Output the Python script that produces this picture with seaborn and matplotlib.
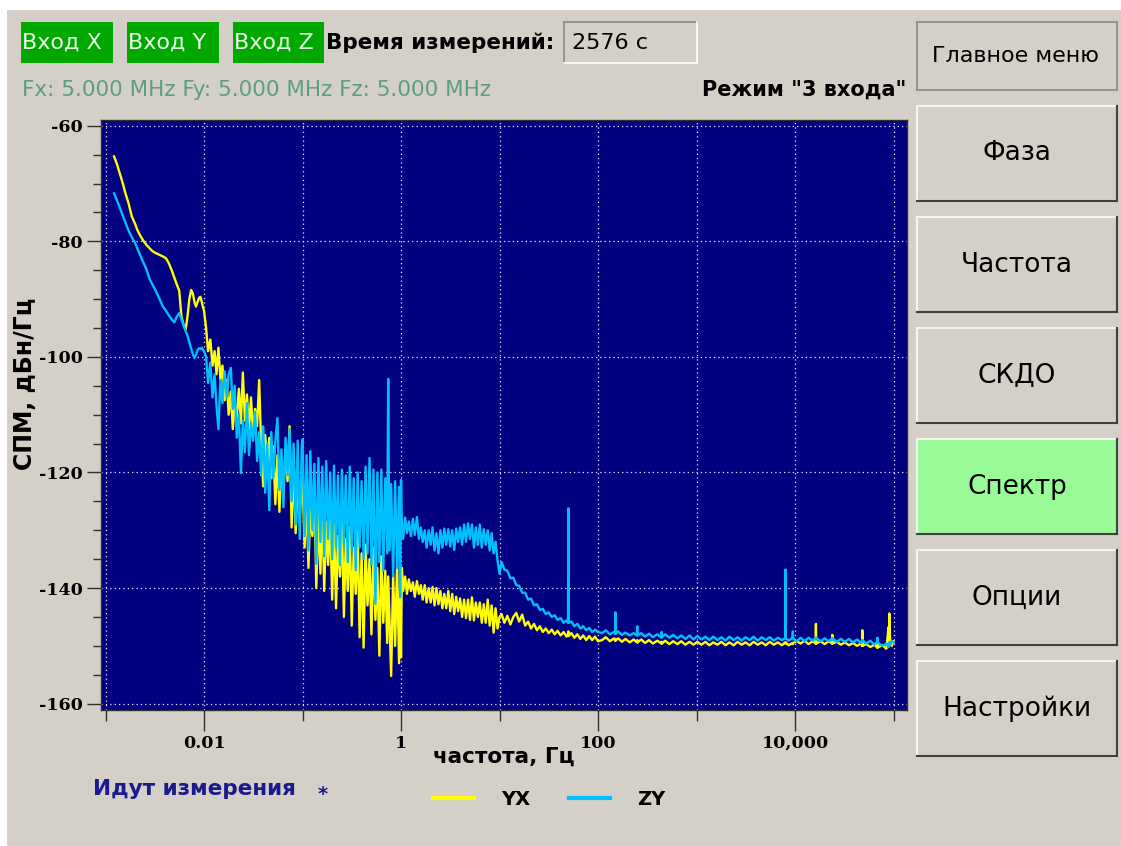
import pandas as pd
import seaborn as sns
import matplotlib.pyplot as plt
from matplotlib.patches import Rectangle
from matplotlib.lines import Line2D
from matplotlib.ticker import FixedLocator, FixedFormatter, NullFormatter

# --- spectrum data, split by decade ---
freq_a = [0.00122, 0.0013, 0.0014, 0.0015, 0.0016, 0.0017, 0.00185, 0.002, 0.0021, 0.00225,
          0.0024, 0.0026, 0.0028, 0.003, 0.0032, 0.0035, 0.0038, 0.0041, 0.0044, 0.0047,
          0.005, 0.0053, 0.0056, 0.0059, 0.0062, 0.0065, 0.0068, 0.0071, 0.0074, 0.0077,
          0.008, 0.0083, 0.0086, 0.0089, 0.0092, 0.0095, 0.0098, 0.01]
yx_a = [-65.3, -66.5, -68.3, -70.0, -71.8, -73.2, -75.7, -77.0, -78.0, -79.0,
        -79.8, -80.6, -81.2, -81.7, -82.0, -82.3, -82.6, -82.9, -83.8, -85.0,
        -86.3, -87.5, -88.5, -93.0, -94.5, -95.3, -93.0, -90.0, -88.4, -89.0,
        -90.5, -91.3, -90.5, -89.8, -89.6, -90.5, -91.5, -92.0]
zy_a = [-71.7, -72.8, -74.2, -75.6, -76.8, -78.0, -79.3, -80.3, -81.2, -82.4,
        -83.5, -84.8, -86.5, -87.5, -88.4, -89.8, -91.2, -92.0, -92.8, -93.5,
        -94.0, -93.0, -92.4, -93.5, -94.5, -95.5, -96.3, -97.5, -98.5, -99.5,
        -100.2, -99.6, -98.8, -98.5, -98.6, -98.4, -98.8, -99.0]

freq_b = [0.0105, 0.011, 0.0116, 0.0122, 0.0128, 0.0134, 0.014, 0.0147, 0.0154, 0.0162,
          0.017, 0.0178, 0.0187, 0.0196, 0.0205, 0.0215, 0.0226, 0.0237, 0.0248, 0.026,
          0.0273, 0.0286, 0.03, 0.0315, 0.033, 0.0346, 0.0363, 0.038, 0.0399, 0.0418,
          0.0438, 0.046, 0.0482, 0.0505, 0.053, 0.0556, 0.0583, 0.0611, 0.064, 0.0672,
          0.0705, 0.0739, 0.0775, 0.0812, 0.0852, 0.0893, 0.0937, 0.0982]
yx_b = [-95.0, -99.0, -97.0, -101.5, -99.0, -103.0, -98.4, -104.0, -101.5, -107.5,
        -104.0, -110.0, -106.0, -112.5, -108.0, -110.5, -105.5, -111.5, -102.7, -111.0,
        -106.5, -112.5, -107.0, -113.5, -109.0, -112.0, -104.0, -115.0, -122.4, -113.5,
        -118.5, -114.0, -121.0, -115.5, -125.5, -117.0, -126.8, -118.0, -123.0, -116.0,
        -121.5, -112.0, -129.5, -118.5, -130.5, -121.0, -127.5, -122.0]
zy_b = [-100.0, -104.5, -101.0, -107.0, -103.0, -108.5, -112.5, -104.0, -108.0, -102.5,
        -107.0, -103.0, -101.9, -109.0, -105.0, -114.0, -110.0, -120.1, -111.0, -116.5,
        -108.0, -117.0, -111.5, -114.5, -109.5, -118.0, -113.0, -120.5, -112.0, -123.5,
        -115.0, -126.5, -113.0, -121.0, -114.5, -110.6, -123.0, -116.0, -126.0, -114.0,
        -120.5, -112.5, -125.0, -115.0, -129.0, -114.5, -131.5, -116.0]

freq_c = [0.1, 0.105, 0.11, 0.115, 0.12, 0.126, 0.132, 0.138, 0.145, 0.152,
          0.159, 0.166, 0.174, 0.182, 0.191, 0.2, 0.209, 0.219, 0.229, 0.24,
          0.251, 0.263, 0.275, 0.288, 0.302, 0.316, 0.331, 0.347, 0.363, 0.38,
          0.398, 0.417, 0.437, 0.457, 0.479, 0.501, 0.525, 0.55, 0.575, 0.603,
          0.631, 0.661, 0.692, 0.724, 0.741, 0.759, 0.794, 0.832, 0.871, 0.912,
          0.955, 0.98, 1.0]
yx_c = [-121.0, -133.0, -124.5, -136.5, -126.0, -131.0, -123.0, -140.0, -127.0, -137.5,
        -125.5, -140.5, -128.5, -136.0, -127.5, -142.0, -129.0, -143.5, -131.0, -138.0,
        -128.0, -145.0, -131.5, -140.5, -129.5, -146.5, -133.0, -141.0, -130.0, -148.5,
        -134.0, -150.3, -132.5, -143.0, -135.0, -148.0, -133.0, -145.5, -136.5, -151.7,
        -134.5, -146.0, -137.0, -149.5, -138.0, -144.0, -155.2, -137.5, -150.0, -136.0,
        -153.0, -140.0, -152.0]
zy_c = [-114.3, -131.0, -117.0, -133.5, -116.3, -130.0, -118.5, -135.8, -117.5, -132.0,
        -119.0, -134.5, -118.0, -131.5, -120.0, -135.0, -118.8, -133.0, -120.5, -136.0,
        -119.5, -132.5, -120.5, -135.5, -119.0, -133.5, -121.0, -136.9, -120.0, -133.0,
        -121.5, -135.0, -119.0, -134.0, -117.5, -136.0, -119.5, -142.7, -120.0, -135.5,
        -119.5, -137.0, -121.0, -134.0, -103.8, -133.5, -122.0, -138.0, -121.5, -136.5,
        -122.5, -141.6, -121.3]

freq_d = [1.02, 1.05, 1.1, 1.15, 1.2, 1.26, 1.32, 1.38, 1.45, 1.52,
          1.59, 1.66, 1.74, 1.82, 1.91, 2.0, 2.09, 2.19, 2.29, 2.4,
          2.51, 2.63, 2.75, 2.88, 3.02, 3.16, 3.31, 3.47, 3.63, 3.8,
          3.98, 4.17, 4.37, 4.57, 4.79, 5.01, 5.25, 5.5, 5.75, 6.03,
          6.31, 6.61, 6.92, 7.24, 7.59, 7.94, 8.32, 8.71, 9.12, 9.55,
          10.0]
yx_d = [-136.5, -140.5, -138.0, -141.0, -138.5, -140.5, -139.0, -141.5, -138.8, -141.0,
        -139.5, -142.0, -139.5, -142.5, -140.0, -142.5, -139.8, -143.0, -140.0, -142.8,
        -140.5, -143.5, -141.0, -143.5, -140.5, -144.0, -141.0, -144.5, -141.5, -144.0,
        -141.8, -145.0, -142.0, -145.2, -142.0, -145.5, -141.6, -145.6, -142.5, -145.0,
        -142.5, -146.0, -142.8, -146.0, -142.0, -146.5, -143.0, -147.7, -143.5, -147.0,
        -145.0]
zy_d = [-129.0, -131.5, -127.8, -130.5, -128.5, -131.0, -128.0, -130.8, -127.7, -131.5,
        -129.5, -132.0, -130.0, -133.0, -130.0, -132.5, -129.5, -133.5, -130.5, -134.0,
        -130.0, -133.0, -129.7, -132.5, -129.8, -132.8, -130.0, -133.4, -129.7, -132.0,
        -129.5, -132.5, -129.0, -132.0, -128.8, -131.5, -129.0, -133.0, -129.5, -132.5,
        -129.0, -133.0, -129.8, -132.5, -130.0, -133.5, -130.5, -134.0, -132.0, -135.2,
        -137.5]

freq_e = [10.5, 11.2, 12.0, 12.9, 13.8, 14.8, 15.8, 17.0, 18.2, 19.5,
          20.9, 22.4, 24.0, 25.7, 27.5, 29.5, 31.6, 33.9, 36.3, 38.9,
          41.7, 44.7, 47.9, 49.6, 50.0, 50.4, 53.7, 57.5, 61.7, 66.1,
          70.8, 75.9, 81.3, 87.1, 93.3, 100.0]
yx_e = [-144.5, -146.0, -144.8, -146.3, -145.0, -144.3, -145.8, -144.6, -146.5, -145.8,
        -147.0, -146.2, -147.3, -146.6, -147.6, -147.0, -147.8, -147.2, -148.0, -147.4,
        -148.2, -147.6, -148.4, -147.8, -147.5, -148.3, -147.8, -148.6, -148.0, -148.8,
        -148.2, -149.0, -148.3, -149.0, -148.4, -149.2]
zy_e = [-135.5, -136.8, -137.0, -138.3, -138.2, -139.5, -139.6, -140.8, -140.8, -142.0,
        -141.8, -143.0, -142.8, -143.8, -143.6, -144.5, -144.2, -145.0, -144.7, -145.5,
        -145.2, -146.0, -145.6, -146.0, -126.2, -146.0, -145.8, -146.6, -146.2, -147.0,
        -146.6, -147.3, -146.9, -147.6, -147.2, -147.6]

freq_f = [110, 120, 132, 145, 149.5, 150, 150.5, 160, 175, 190,
          210, 230, 248, 250, 252, 275, 300, 330, 360, 400,
          440, 443, 446, 480, 530, 580, 640, 700, 770, 850,
          930, 1020, 1120, 1230, 1350, 1480, 1630, 1790, 1970, 2160,
          2380, 2610, 2870, 3150, 3460, 3800, 4180, 4590, 5040, 5540,
          6090, 6690, 7350, 7950, 8000, 8050, 8600, 9450, 9500, 9550,
          10400, 11400, 12500, 13700, 15100, 16200, 16300, 16400, 18200, 20000,
          22000, 23800, 23900, 24000, 26600, 29200, 32100, 35300, 38800, 42600,
          46800, 48150, 48200, 48250, 52900, 58100, 63800, 68400, 68500, 68600,
          77000, 84600, 89000, 90000, 90600, 91200, 93000, 96000, 100000]
yx_f = [-149.0, -148.5, -149.2, -148.7, -149.1, -148.8, -149.1, -148.7, -149.3, -148.8,
        -149.4, -148.9, -149.4, -149.0, -149.4, -148.9, -149.5, -149.0, -149.6, -149.1,
        -149.6, -149.3, -149.6, -149.1, -149.7, -149.2, -149.7, -149.2, -149.8, -149.3,
        -149.8, -149.3, -149.8, -149.3, -149.9, -149.4, -149.8, -149.3, -149.9, -149.4,
        -149.9, -149.3, -149.8, -149.4, -149.9, -149.3, -149.8, -149.4, -149.9, -149.3,
        -149.8, -149.4, -149.9, -149.4, -149.6, -149.4, -149.9, -149.5, -149.7, -149.5,
        -149.2, -149.6, -149.1, -149.7, -149.2, -149.6, -146.2, -149.6, -149.2, -149.7,
        -149.2, -149.6, -148.1, -149.6, -149.3, -149.8, -149.4, -149.9, -149.5, -150.0,
        -149.6, -150.0, -147.3, -150.0, -149.7, -150.2, -149.8, -150.3, -148.7, -150.3,
        -149.9, -150.5, -146.8, -150.0, -144.4, -148.0, -149.3, -150.0, -149.2]
zy_f = [-147.8, -147.3, -148.0, -147.6, -147.9, -144.2, -147.9, -147.5, -148.1, -147.7,
        -148.2, -147.8, -148.2, -146.6, -148.2, -147.8, -148.4, -147.9, -148.5, -148.0,
        -148.6, -147.6, -148.5, -148.0, -148.6, -148.1, -148.7, -148.2, -148.8, -148.2,
        -148.9, -148.3, -148.9, -148.4, -149.0, -148.4, -149.0, -148.5, -149.1, -148.4,
        -149.0, -148.5, -149.1, -148.5, -149.0, -148.4, -149.1, -148.5, -149.0, -148.5,
        -149.1, -148.6, -149.0, -148.7, -136.8, -148.7, -149.1, -148.6, -147.5, -148.7,
        -149.2, -148.6, -149.2, -148.6, -149.1, -148.6, -148.9, -148.6, -149.2, -148.7,
        -149.2, -148.7, -149.0, -148.7, -149.3, -148.8, -149.3, -148.8, -149.4, -148.9,
        -149.5, -149.0, -149.3, -149.0, -149.6, -149.1, -149.8, -149.3, -148.6, -149.4,
        -150.0, -149.6, -150.2, -149.5, -149.9, -149.3, -149.8, -149.2, -149.4]

x_major = [0.01, 1, 100, 10000]
x_labels = ["0.01", "1", "100", "10,000"]
x_minor = [0.001, 0.1, 10, 1000, 100000]
y_major = [-160, -140, -120, -100, -80, -60]
y_labels = ["-160", "-140", "-120", "-100", "-80", "-60"]
y_minor = [-155, -150, -145, -135, -130, -125, -115, -110, -105,
           -95, -90, -85, -75, -70, -65]

series_names = ["YX", "ZY"]
series_colors = {"YX": "#ffff00", "ZY": "#00bfff"}

freq = freq_a + freq_b + freq_c + freq_d + freq_e + freq_f
yx_db = yx_a + yx_b + yx_c + yx_d + yx_e + yx_f
zy_db = zy_a + zy_b + zy_c + zy_d + zy_e + zy_f

df = pd.DataFrame({
    "freq": freq + freq,
    "spm": yx_db + zy_db,
    "pair": ["YX"] * len(freq) + ["ZY"] * len(freq),
})

# screen geometry in pixels (from top-left)
W, H = 1121, 846
GRAY = "#d4d0c8"


def fx(px):
    return px / W


def fy(py):
    return 1 - py / H


fig = plt.figure(figsize=(W / 100, H / 100), dpi=100, facecolor=GRAY)
# white strips at the top and left of the window
fig.add_artist(Rectangle((0, fy(10)), 1, 10 / H, transform=fig.transFigure,
                         facecolor="white", edgecolor="none"))
fig.add_artist(Rectangle((0, 0), 7 / W, 1, transform=fig.transFigure,
                         facecolor="white", edgecolor="none"))

ax = fig.add_axes([fx(101), fy(710), 806 / W, 590 / H])
sns.lineplot(data=df, x="freq", y="spm", hue="pair", hue_order=series_names,
             palette=series_colors, estimator=None, linewidth=1.7, ax=ax)

ax.set_facecolor("#000080")
ax.set_xscale("log")
ax.set_xlim(0.0009, 1.37e5)
ax.set_ylim(-161.1, -59.0)

ax.xaxis.set_major_locator(FixedLocator(x_major))
ax.xaxis.set_major_formatter(FixedFormatter(x_labels))
ax.xaxis.set_minor_locator(FixedLocator(x_minor))
ax.xaxis.set_minor_formatter(NullFormatter())
ax.yaxis.set_major_locator(FixedLocator(y_major))
ax.yaxis.set_major_formatter(FixedFormatter(y_labels))
ax.yaxis.set_minor_locator(FixedLocator(y_minor))

ax.grid(which="both", axis="x", color="#e8e8ff", linestyle=(0, (1, 2.5)), linewidth=0.9)
ax.grid(which="major", axis="y", color="#e8e8ff", linestyle=(0, (1, 2.5)), linewidth=0.9)

ax.tick_params(axis="x", which="major", length=15, width=1, color="#303030", pad=3)
ax.tick_params(axis="x", which="minor", length=8, width=1, color="#303030")
ax.tick_params(axis="y", which="major", length=10, width=1, color="#303030", pad=3)
ax.tick_params(axis="y", which="minor", length=6, width=1, color="#303030")
for lbl in ax.get_xticklabels() + ax.get_yticklabels():
    lbl.set_fontfamily("DejaVu Serif")
    lbl.set_fontweight("bold")
    lbl.set_fontsize(12.5)
for s in ax.spines.values():
    s.set_color("#303030")
    s.set_linewidth(1)

ax.set_xlabel("частота, Гц", fontsize=15.5, fontweight="bold")
ax.xaxis.set_label_coords(0.5, -0.063)
ax.set_ylabel("СПМ, дБн/Гц", fontsize=17, fontweight="bold")
ax.yaxis.set_label_coords(-0.079, 0.552)

sns.move_legend(ax, "center", bbox_to_anchor=(0.556, -0.151), ncol=2, frameon=False,
                title="", prop={"weight": "bold", "size": 14}, handlelength=2.1,
                handletextpad=1.4, columnspacing=2.0)
for line in ax.get_legend().get_lines():
    line.set_linewidth(3)


def bevel(x0, y0, x1, y1, face, light, dark, lw=1.5):
    fig.add_artist(Rectangle((fx(x0), fy(y1)), (x1 - x0) / W, (y1 - y0) / H,
                             transform=fig.transFigure, facecolor=face, edgecolor="none"))
    fig.add_artist(Line2D([fx(x0), fx(x1)], [fy(y0), fy(y0)], color=light, lw=lw))
    fig.add_artist(Line2D([fx(x0), fx(x0)], [fy(y0), fy(y1)], color=light, lw=lw))
    fig.add_artist(Line2D([fx(x0), fx(x1)], [fy(y1), fy(y1)], color=dark, lw=lw))
    fig.add_artist(Line2D([fx(x1), fx(x1)], [fy(y0), fy(y1)], color=dark, lw=lw))


# top status row
for x0, x1, label in [(21, 113, "Вход X"), (127, 219, "Вход Y"), (233, 324, "Вход Z")]:
    fig.add_artist(Rectangle((fx(x0), fy(63)), (x1 - x0) / W, 41 / H,
                             transform=fig.transFigure, facecolor="#00a800", edgecolor="none"))
    fig.text(fx(x0 + 1), fy(43), label, color="#e8fbe8", fontsize=16, va="center", ha="left")
fig.text(fx(326), fy(43), "Время измерений:", fontsize=15.5, fontweight="bold",
         va="center", ha="left")
bevel(564, 22, 697, 63, GRAY, "#8a8a8a", "white", lw=1.2)
fig.text(fx(572), fy(43), "2576 с", fontsize=16, va="center", ha="left")
fig.text(fx(22), fy(90), "Fx: 5.000 MHz Fy: 5.000 MHz Fz: 5.000 MHz", color="#5e9e7e",
         fontsize=15.5, va="center", ha="left")
fig.text(fx(906), fy(90), "Режим \"3 входа\"", fontsize=15, fontweight="bold",
         va="center", ha="right")

# side buttons
bevel(917, 22, 1117, 90, GRAY, "#8a8a8a", "#8a8a8a", lw=1.2)
fig.text(fx(1016), fy(56), "Главное меню", fontsize=16, va="center", ha="center")
buttons = [(106, 201, "Фаза"), (217, 312, "Частота"), (328, 423, "СКДО"),
           (439, 534, "Спектр"), (550, 645, "Опции"), (661, 756, "Настройки")]
for y0, y1, label in buttons:
    face = "#98fb98" if label == "Спектр" else GRAY
    bevel(917, y0, 1117, y1, face, "#f4f4f4", "#404040")
    fig.text(fx(1017), fy((y0 + y1) / 2), label, fontsize=19, va="center", ha="center")

# status line under the plot
fig.text(fx(93), fy(789), "Идут измерения", color="#1a1a8c", fontsize=15.5,
         fontweight="bold", va="center", ha="left")
fig.text(fx(318), fy(794), "*", color="#1a1a8c", fontsize=14, fontweight="bold",
         va="center", ha="left")

fig.savefig("out.png", dpi=100, facecolor=fig.get_facecolor())
